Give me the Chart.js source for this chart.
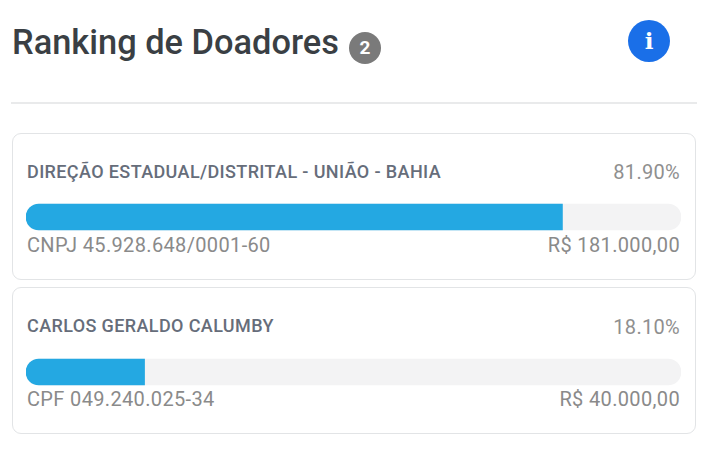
<!DOCTYPE html>
<html lang="pt-BR">
<head>
<meta charset="utf-8">
<title>Ranking de Doadores</title>
<script src="https://cdn.jsdelivr.net/npm/chart.js@4"></script>
<style>
    html, body { margin: 0; padding: 0; background: #fff; }
    body { width: 723px; height: 460px; position: relative; overflow: hidden; font-family: Roboto, sans-serif; }
    .title { position: absolute; left: 12px; top: 20px; font-size: 34.4px; font-weight: 500; line-height: 44px; color: #3a3f44; white-space: nowrap; }
    .badge { position: absolute; left: 349px; top: 32px; width: 32px; height: 32px; border-radius: 50%; background: #7a7a7a; color: #fff; font-size: 19px; font-weight: 700; line-height: 32px; text-align: center; }
    .info { position: absolute; left: 628px; top: 20px; width: 42px; height: 42px; border-radius: 50%; background: #1a6fe8; color: #fff; font-family: "DejaVu Serif", serif; font-size: 23px; font-weight: 700; line-height: 41px; text-align: center; }
    .divider { position: absolute; left: 11px; top: 102px; width: 686px; height: 2px; background: #e9eaeb; }
    .card { position: absolute; left: 12px; width: 682px; height: 145px; border: 1px solid #e2e4e6; border-radius: 9px; box-sizing: content-box; }
    .text { position: absolute; white-space: nowrap; line-height: 24px; }
    .name { left: 14px; font-size: 18px; font-weight: 500; letter-spacing: 0.38px; color: #666d7a; }
    .pct { right: 15px; font-size: 20px; letter-spacing: 0.3px; color: #8f8f8f; }
    .doc { left: 14px; font-size: 20px; letter-spacing: 0.35px; color: #8a8a8a; }
    .amount { right: 15px; font-size: 20px; letter-spacing: 0.35px; color: #8a8a8a; }
    #chart { position: absolute; left: 0; top: 0; }
</style>
</head>
<body>
<div class="title">Ranking de Doadores</div>
<div class="badge" id="badge"></div>
<div class="info">i</div>
<div class="divider"></div>
<div id="cards"></div>
<canvas id="chart" width="723" height="460"></canvas>

<script>
const donors = ['DIREÇÃO ESTADUAL/DISTRITAL - UNIÃO - BAHIA', 'CARLOS GERALDO CALUMBY'];
const documents = ['CNPJ 45.928.648/0001-60', 'CPF 049.240.025-34'];
const amounts = ['R$ 181.000,00', 'R$ 40.000,00'];
const percents = [81.90, 18.10];
const track = [100, 100];

document.getElementById('badge').textContent = donors.length;

// --- Cards (text only, the bars come from the chart) ---
const cardTops = [133, 287];
document.getElementById('cards').innerHTML = donors.map((name, i) => `
    <div class="card" style="top:${cardTops[i]}px">
        <div class="text name" style="top:${i === 0 ? 26 : 26}px">${name}</div>
        <div class="text pct" style="top:${i === 0 ? 26 : 27}px">${percents[i].toFixed(2)}%</div>
        <div class="text doc" style="top:99px">${documents[i]}</div>
        <div class="text amount" style="top:99px">${amounts[i]}</div>
    </div>`).join('');

// --- Bars ---
new Chart(document.getElementById('chart'), {
    type: 'bar',
    data: {
        labels: donors,
        datasets: [
            {
                label: 'Percentual',
                data: percents,
                backgroundColor: '#24a8e2',
                borderSkipped: false,
                borderRadius: { topLeft: 13, bottomLeft: 13, topRight: 0, bottomRight: 0 },
                barThickness: 26,
                grouped: false,
                order: 1
            },
            {
                label: 'Total',
                data: track,
                backgroundColor: '#f3f3f4',
                borderSkipped: false,
                borderRadius: 13,
                barThickness: 26,
                grouped: false,
                order: 2
            }
        ]
    },
    options: {
        indexAxis: 'y',
        responsive: false,
        animation: false,
        layout: { padding: { left: 26, right: 42, top: 139.5, bottom: 10.5 } },
        plugins: { legend: { display: false }, tooltip: { enabled: false } },
        scales: {
            x: { display: false, min: 0, max: 100 },
            y: { display: false }
        }
    }
});
</script>
</body>
</html>
